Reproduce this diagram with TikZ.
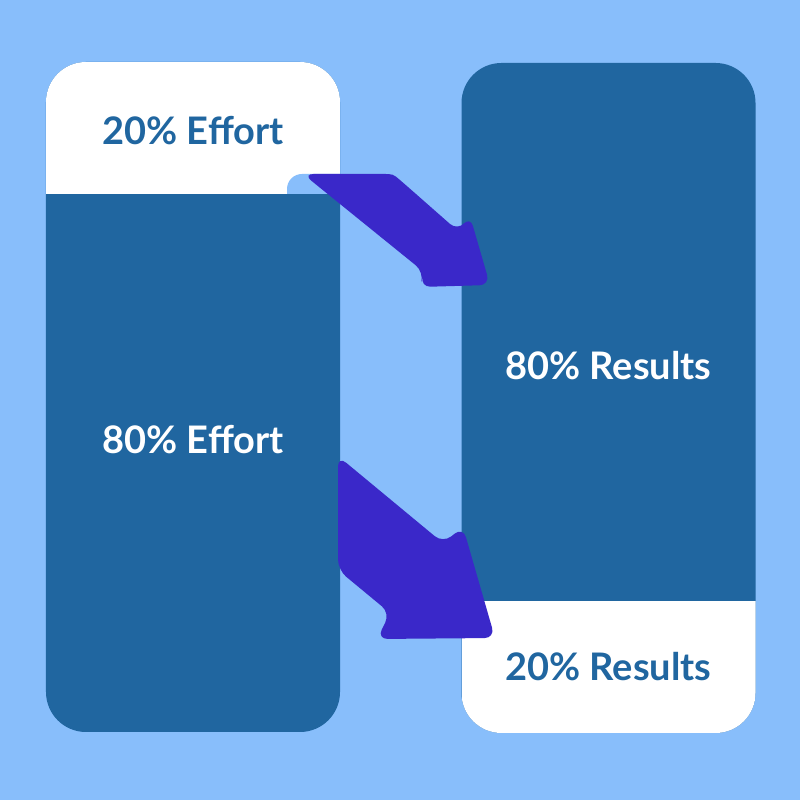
\documentclass[tikz,border=0pt]{standalone}
\usepackage{fontspec}
\setmainfont{Lato}
\usetikzlibrary{positioning, calc}
\definecolor{cBack}{RGB}{136, 190, 251}
\definecolor{cPillar}{RGB}{32, 102, 160}
\definecolor{cArrow}{RGB}{58, 40, 201}

\begin{document}
\begin{tikzpicture}[
    pillar/.style={
        fill=cPillar,
        rounded corners=0.40cm,
        minimum width=2.94cm,
        minimum height=6.70cm,
        inner sep=0pt
    },
    topband/.style={
        path picture={
            \fill[white, sharp corners] (path picture bounding box.north west)
                rectangle ([yshift=-1.32cm]path picture bounding box.north east);
        }
    },
    lowband/.style={
        path picture={
            \fill[white, sharp corners] (path picture bounding box.south west)
                rectangle ([yshift=1.32cm]path picture bounding box.south east);
        }
    },
    label/.style={font=\fontsize{10.8}{12}\selectfont\bfseries, text=#1},
    bigarrow/.style={fill=cArrow, rounded corners=3pt}
]

% background
\fill[cBack] (0,0) rectangle (8,8);

% Left column: effort
\node[pillar, topband] (effort) at (1.93, 4.03) {};
\node[label=cPillar] (effTop) at ([yshift=-0.69cm]effort.north) {20\% Effort};
\node[label=white] (effLow) at ([yshift=-0.43cm]effort.center) {80\% Effort};

% Right column: results
\node[pillar, lowband] (results) at (6.085, 4.02) {};
\node[label=white] (resTop) at ([yshift=0.32cm]results.center) {80\% Results};
\node[label=cPillar] (resLow) at ([yshift=0.67cm]results.south) {20\% Results};

% tail patch of the upper arrow
\fill[cBack] (2.87, 6.06) -- (2.87, 6.11) arc[start angle=180, end angle=90, radius=0.15]
    -- (3.40, 6.26) -- (3.40, 6.06) -- cycle;

% Upper arrow
\fill[bigarrow] (3.03, 6.26) -- (3.72, 6.26) .. controls (3.93, 6.26) .. (4.08, 6.13)
    -- (4.58, 5.69) -- (4.70, 5.84) -- (4.90, 5.15) -- (4.20, 5.13) -- (4.24, 5.28) -- cycle;

% Lower arrow
\fill[bigarrow] (3.38, 2.30) -- (3.38, 3.44) -- (4.43, 2.57) -- (4.63, 2.73)
    -- (4.95, 1.62) -- (3.77, 1.61) -- (3.90, 1.87) -- cycle;

\end{tikzpicture}
\end{document}
